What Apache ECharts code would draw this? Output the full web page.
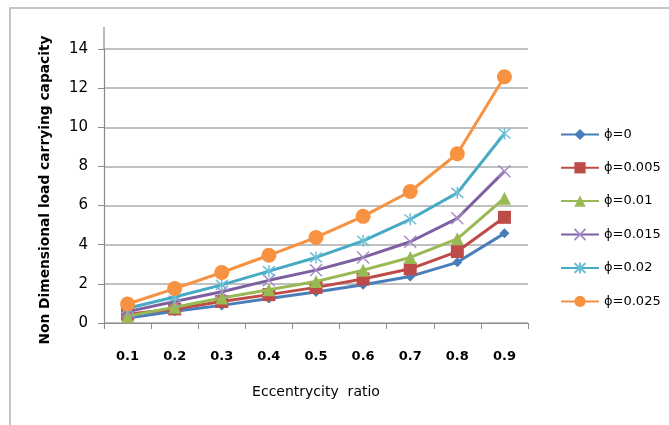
<!DOCTYPE html>
<html>
<head>
<meta charset="utf-8">
<script src="https://cdn.jsdelivr.net/npm/echarts@6/dist/echarts.min.js"></script>
<style>html,body{margin:0;padding:0;background:#fff}#c{width:669px;height:425px}</style>
</head>
<body>
<div id="c"></div>
<script>
const categories = ['0.1','0.2','0.3','0.4','0.5','0.6','0.7','0.8','0.9'];
const seriesNames = ['\u03d5=0','\u03d5=0.005','\u03d5=0.01','\u03d5=0.015','\u03d5=0.02','\u03d5=0.025'];
const phi0     = [0.26, 0.60, 0.90, 1.25, 1.58, 1.95, 2.38, 3.10, 4.58];
const phi0005  = [0.45, 0.72, 1.10, 1.45, 1.82, 2.25, 2.77, 3.65, 5.40];
const phi001   = [0.35, 0.80, 1.28, 1.70, 2.12, 2.70, 3.35, 4.30, 6.38];
const phi0015  = [0.58, 1.10, 1.60, 2.18, 2.70, 3.35, 4.15, 5.35, 7.75];
const phi002   = [0.75, 1.33, 1.95, 2.65, 3.35, 4.20, 5.30, 6.65, 9.68];
const phi0025  = [0.97, 1.76, 2.58, 3.46, 4.37, 5.45, 6.72, 8.65, 12.58];
const yTicks = [0, 2, 4, 6, 8, 10, 12, 14];

const colors = ['#4A7EBB','#BE4B48','#98B954','#7D60A0','#46AAC5','#F69240'];
const markerColors = ['#4A7EBB','#BE4B48','#98B954','#A48CC4','#6CC0D6','#F69240'];
const symbols = [
  'diamond',
  'rect',
  'triangle',
  'path://M0,0L10,10M10,0L0,10',
  'path://M0,0L10,10M10,0L0,10M5,-1L5,11',
  'circle'
];
const sizes = [10, 13, 13, 12, 12, 15];
const data = [phi0, phi0005, phi001, phi0015, phi002, phi0025];

const FONT = '"DejaVu Sans", sans-serif';

const chart = echarts.init(document.getElementById('c'));
const series = data.map((d, i) => ({
  name: seriesNames[i],
  type: 'line',
  data: d,
  symbol: symbols[i],
  symbolSize: sizes[i],
  lineStyle: { color: colors[i], width: 3 },
  itemStyle: {
    color: markerColors[i],
    borderColor: markerColors[i],
    borderWidth: (i === 3 || i === 4) ? 1.5 : 0
  },
  z: 2 + i,
  animation: false
}));

chart.setOption({
  animation: false,
  textStyle: { fontFamily: FONT },
  grid: { left: 104, right: 141, top: 49, bottom: 102 },
  graphic: [
    { type: 'rect', shape: { x: 10, y: 8, width: 700, height: 440 },
      style: { fill: 'none', stroke: '#b4b4b4', lineWidth: 1.5 }, silent: true },
    { type: 'line', shape: { x1: 104, y1: 27, x2: 104, y2: 49 },
      style: { stroke: '#8c8c8c', lineWidth: 1.2 }, silent: true }
  ],
  legend: {
    orient: 'vertical',
    left: 555,
    top: 123,
    itemWidth: 38,
    itemHeight: 14,
    itemGap: 20.3,
    textStyle: { fontSize: 13, color: '#000', fontFamily: FONT },
    data: seriesNames
  },
  xAxis: {
    type: 'category',
    data: categories,
    boundaryGap: true,
    name: 'Eccentrycity  ratio',
    nameLocation: 'middle',
    nameGap: 62,
    nameTextStyle: { fontSize: 14, color: '#000', fontFamily: FONT },
    axisLine: { lineStyle: { color: '#8c8c8c', width: 1.2 } },
    axisTick: { show: true, alignWithLabel: false, length: 6, lineStyle: { color: '#8c8c8c' } },
    axisLabel: { margin: 27, fontSize: 13, color: '#000', fontWeight: 'bold', fontFamily: FONT },
    splitLine: { show: false }
  },
  yAxis: {
    type: 'value',
    min: 0,
    max: 14,
    interval: 2,
    name: 'Non Dimensional load carrying capacity',
    nameLocation: 'middle',
    nameGap: 52,
    nameTextStyle: { fontSize: 13.8, color: '#000', fontWeight: 'bold', fontFamily: FONT,
      padding: [0, 8, 0, 0] },
    axisLine: { show: true, lineStyle: { color: '#8c8c8c', width: 1.2 } },
    axisTick: { show: true, length: 6, lineStyle: { color: '#8c8c8c' } },
    axisLabel: { margin: 16, fontSize: 15, color: '#000', fontFamily: FONT,
      formatter: v => yTicks.indexOf(v) >= 0 ? String(v) : '' },
    splitLine: { show: true, lineStyle: { color: '#ababab', width: 1.5 } }
  },
  series: series
});
</script>
</body>
</html>
